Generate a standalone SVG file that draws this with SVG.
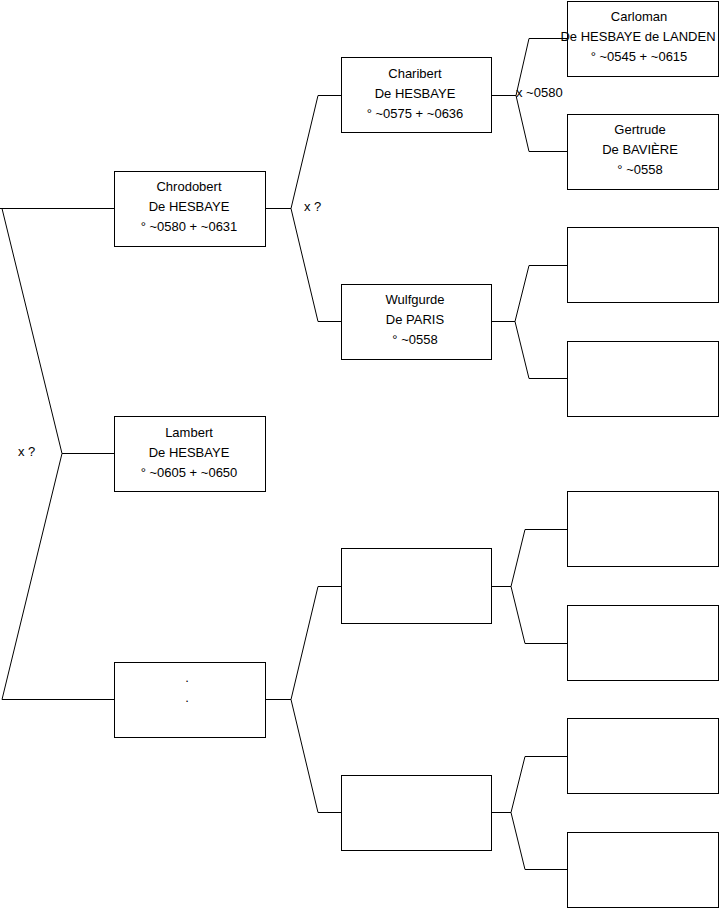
<svg xmlns="http://www.w3.org/2000/svg" width="719" height="908" viewBox="0 0 719 908">
<style>
.box{fill:#fff;stroke:#000;stroke-width:1}
.ln{fill:none;stroke:#000;stroke-width:1}
text{font-family:"Liberation Sans",Arial,sans-serif;font-size:13px;fill:#000}
.c{text-anchor:middle}
</style>
<rect width="719" height="908" fill="#fff"/>
<g id="connectors">
<path class="ln" d="M0,208.5 H114.5 M2,208.5 L62,453.5 H114.5 M62,453.5 L2,699.5 H114.5"/>
<path class="ln" d="M265.5,208.5 H291 L318,95.5 H341.5 M291,208.5 L318,321.5 H341.5"/>
<path class="ln" d="M265.5,699.5 H291 L318,586.5 H341.5 M291,699.5 L318,812.5 H341.5"/>
<path class="ln" d="M491.5,95.5 H516 L529,38.5 H567.5 M516,95.5 L529,151.5 H567.5"/>
<path class="ln" d="M491.5,321.5 H515 L529,265.5 H567.5 M515,321.5 L529,378.5 H567.5"/>
<path class="ln" d="M491.5,586.5 H511 L525,529.5 H567.5 M511,586.5 L525,643.5 H567.5"/>
<path class="ln" d="M491.5,812.5 H511 L525,756.5 H567.5 M511,812.5 L525,869.5 H567.5"/>
<text x="18" y="456">x ?</text>
<text x="304" y="211">x ?</text>
<text x="516" y="97">x ~0580</text>
</g>
<g id="chrodobert">
<rect class="box" x="114.5" y="171.5" width="151" height="75"/>
<text class="c" x="189" y="191">Chrodobert</text>
<text class="c" x="189" y="211">De HESBAYE</text>
<text class="c" x="189" y="231">° ~0580 + ~0631</text>
</g>
<g id="lambert">
<rect class="box" x="114.5" y="416.5" width="151" height="75"/>
<text class="c" x="189" y="437">Lambert</text>
<text class="c" x="189" y="457">De HESBAYE</text>
<text class="c" x="189" y="477">° ~0605 + ~0650</text>
</g>
<g id="blank1">
<rect class="box" x="114.5" y="662.5" width="151" height="75"/>
<text class="c" x="187" y="682">.</text>
<text class="c" x="187" y="702">.</text>
</g>
<g id="charibert">
<rect class="box" x="341.5" y="57.5" width="150" height="75"/>
<text class="c" x="415" y="78">Charibert</text>
<text class="c" x="415" y="98">De HESBAYE</text>
<text class="c" x="415" y="118">° ~0575 + ~0636</text>
</g>
<g id="wulfgurde">
<rect class="box" x="341.5" y="284.5" width="150" height="75"/>
<text class="c" x="415" y="304">Wulfgurde</text>
<text class="c" x="415" y="324">De PARIS</text>
<text class="c" x="415" y="344">° ~0558</text>
</g>
<g id="blank2a"><rect class="box" x="341.5" y="548.5" width="150" height="75"/></g>
<g id="blank2b"><rect class="box" x="341.5" y="775.5" width="150" height="75"/></g>
<g id="carloman">
<rect class="box" x="567.5" y="1.5" width="151" height="75"/>
<text class="c" x="639" y="21">Carloman</text>
<text class="c" x="638" y="41">De HESBAYE de LANDEN</text>
<text class="c" x="639" y="61">° ~0545 + ~0615</text>
</g>
<g id="gertrude">
<rect class="box" x="567.5" y="114.5" width="151" height="75"/>
<text class="c" x="640" y="134">Gertrude</text>
<text class="c" x="640" y="154">De BAVIÈRE</text>
<text class="c" x="640" y="174">° ~0558</text>
</g>
<g id="blank3a"><rect class="box" x="567.5" y="227.5" width="151" height="75"/></g>
<g id="blank3b"><rect class="box" x="567.5" y="341.5" width="151" height="75"/></g>
<g id="blank3c"><rect class="box" x="567.5" y="491.5" width="151" height="75"/></g>
<g id="blank3d"><rect class="box" x="567.5" y="605.5" width="151" height="75"/></g>
<g id="blank3e"><rect class="box" x="567.5" y="718.5" width="151" height="75"/></g>
<g id="blank3f"><rect class="box" x="567.5" y="832.5" width="151" height="75"/></g>
</svg>
